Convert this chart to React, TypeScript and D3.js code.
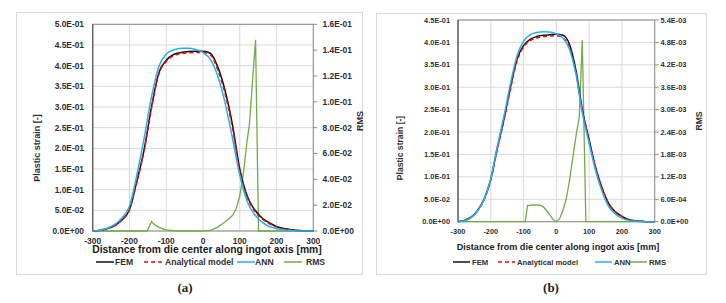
import * as d3 from 'd3';

// distance along ingot axis [mm], shared by the strain curves
const distance = [-300, -280, -260, -240, -220, -200, -180, -160, -140, -120, -100, -80, -60, -40, -20, 0,
  20, 40, 60, 80, 100, 120, 140, 160, 180, 200, 220, 240, 260, 280, 300];

// panel (a)
const femA = [0, 0.002, 0.006, 0.013, 0.027, 0.052, 0.12, 0.197, 0.3, 0.383, 0.413, 0.427, 0.432, 0.434, 0.435, 0.435,
  0.43, 0.397, 0.34, 0.258, 0.15, 0.085, 0.052, 0.032, 0.02, 0.011, 0.006, 0.003, 0.001, 0.0005, 0];
const analyticalA = [0, 0.002, 0.006, 0.013, 0.027, 0.051, 0.118, 0.195, 0.298, 0.38, 0.41, 0.424, 0.429, 0.431, 0.432, 0.432,
  0.426, 0.39, 0.332, 0.25, 0.145, 0.082, 0.049, 0.03, 0.018, 0.01, 0.005, 0.002, 0.001, 0, 0];
const annA = [0, 0.002, 0.007, 0.016, 0.032, 0.06, 0.135, 0.225, 0.325, 0.398, 0.428, 0.438, 0.442, 0.442, 0.439, 0.432,
  0.415, 0.375, 0.31, 0.225, 0.135, 0.072, 0.04, 0.022, 0.011, 0.006, 0.002, 0.001, 0, 0, 0];
const rmsDistA = [-300, -152, -140, -130, -120, -110, -100, -80, -60, 0, 20, 40, 60, 80, 90, 100, 110, 120, 126, 143, 151, 300];
const rmsA = [0, 0, 0.0072, 0.0045, 0.003, 0.0017, 0.0008, 0.0002, 0, 0, 0.0005, 0.003, 0.007, 0.012, 0.017, 0.027,
  0.045, 0.07, 0.082, 0.148, 0, 0];

// panel (b)
const femB = [0, 0.003, 0.01, 0.025, 0.051, 0.095, 0.165, 0.228, 0.3, 0.363, 0.393, 0.407, 0.413, 0.416, 0.417, 0.418,
  0.416, 0.396, 0.337, 0.247, 0.183, 0.12, 0.074, 0.04, 0.022, 0.012, 0.005, 0.002, 0.001, 0, 0];
const analyticalB = [0, 0.003, 0.01, 0.025, 0.05, 0.093, 0.162, 0.225, 0.296, 0.358, 0.39, 0.404, 0.41, 0.413, 0.414, 0.415,
  0.41, 0.39, 0.33, 0.243, 0.18, 0.12, 0.073, 0.04, 0.022, 0.012, 0.005, 0.002, 0.001, 0, 0];
const annB = [0, 0.002, 0.009, 0.024, 0.05, 0.096, 0.168, 0.235, 0.308, 0.37, 0.403, 0.417, 0.422, 0.424, 0.423, 0.419,
  0.41, 0.385, 0.328, 0.24, 0.175, 0.113, 0.066, 0.033, 0.017, 0.008, 0.003, 0.001, 0, 0, 0];
const rmsDistB = [-300, -95, -88, -70, -50, -40, -30, -20, -10, 0, 10, 20, 30, 40, 50, 60, 70, 79, 90, 300];
const rmsB = [0, 0, 0.00043, 0.00045, 0.00044, 0.0004, 0.0003, 0.00018, 0.00006, 0, 0.00008, 0.0003, 0.0006, 0.0011,
  0.0017, 0.0023, 0.0028, 0.00486, 0, 0];

// ticks
const xTicks = [-300, -200, -100, 0, 100, 200, 300];
const strainTicksA = [0, 0.05, 0.1, 0.15, 0.2, 0.25, 0.3, 0.35, 0.4, 0.45, 0.5];
const rmsTicksA = [0, 0.02, 0.04, 0.06, 0.08, 0.1, 0.12, 0.14, 0.16];
const strainTicksB = [0, 0.05, 0.1, 0.15, 0.2, 0.25, 0.3, 0.35, 0.4, 0.45];
const rmsTicksB = [0, 0.0006, 0.0012, 0.0018, 0.0024, 0.003, 0.0036, 0.0042, 0.0048, 0.0054];

const seriesNames = ['FEM', 'Analytical model', 'ANN', 'RMS'];
const COLORS = { fem: '#111111', analytical: '#ff0000', ann: '#1fb4ef', rms: '#70ad47' };
const FONT = '"Liberation Sans", Arial, sans-serif';
const TEXT = '#303030';

const sci = (v: number) => {
  const [m, e] = v.toExponential(1).split('e');
  const n = +e;
  return m + 'E' + (n < 0 ? '-' : '+') + String(Math.abs(n)).padStart(2, '0');
};

interface PanelProps {
  frame: [number, number, number, number];
  plot: { left: number; top: number; right: number; bottom: number };
  fem: number[]; analytical: number[]; ann: number[];
  rmsX: number[]; rms: number[];
  strainTicks: number[]; rmsTicks: number[];
  tickSize: number; titleSize: number; legendSize: number;
  leftLabelX: number; rightLabelX: number; xLabelY: number;
  yTitleX: number; rmsTitleX: number;
  xTitleX: number; xTitleY: number; xTitleSize: number;
  legendX: number[]; legendTextX: number[]; legendW: number;
  tag: string; tagX: number;
}

function Panel(p: PanelProps) {
  const { left, top, right, bottom } = p.plot;
  const x = d3.scaleLinear().domain([-300, 300]).range([left, right]);
  const y = d3.scaleLinear().domain([0, p.strainTicks[p.strainTicks.length - 1]]).range([bottom, top]);
  const y2 = d3.scaleLinear().domain([0, p.rmsTicks[p.rmsTicks.length - 1]]).range([bottom, top]);

  const strainLine = d3.line<number>()
    .x((_, i) => x(distance[i]))
    .y(d => y(d))
    .curve(d3.curveMonotoneX);
  const rmsLine = d3.line<number>()
    .x((_, i) => x(p.rmsX[i]))
    .y(d => y2(d));

  const legendColors = [COLORS.fem, COLORS.analytical, COLORS.ann, COLORS.rms];
  const legendY = 262;

  return (
    <g fontFamily={FONT}>
      <rect x={p.frame[0]} y={p.frame[1]} width={p.frame[2]} height={p.frame[3]} fill="white" stroke="#d9d9d9" />
      {/* gridlines */}
      {p.strainTicks.map(t => (
        <line key={'h' + t} x1={left} x2={right} y1={y(t)} y2={y(t)} stroke="#d9d9d9" strokeWidth={1} />
      ))}
      {xTicks.map(t => (
        <line key={'v' + t} x1={x(t)} x2={x(t)} y1={top} y2={bottom} stroke="#d9d9d9" strokeWidth={1} />
      ))}
      <rect x={left} y={top} width={right - left} height={bottom - top} fill="none" stroke="#8c8c8c" strokeWidth={1} />
      <line x1={left} x2={left} y1={top} y2={bottom} stroke="#595959" strokeWidth={1.2} />
      {p.rmsTicks.map(t => (
        <line key={'rt' + t} x1={right} x2={right + 4} y1={y2(t)} y2={y2(t)} stroke="#8c8c8c" />
      ))}

      {/* series */}
      <path d={rmsLine(p.rms) || ''} fill="none" stroke={COLORS.rms} strokeWidth={1.3} />
      <path d={strainLine(p.fem) || ''} fill="none" stroke={COLORS.fem} strokeWidth={1.5} />
      <path d={strainLine(p.analytical) || ''} fill="none" stroke={COLORS.analytical} strokeWidth={1.5} strokeDasharray="4 3" />
      <path d={strainLine(p.ann) || ''} fill="none" stroke={COLORS.ann} strokeWidth={1.5} />

      {/* tick labels */}
      <g fontSize={p.tickSize} fontWeight="bold" fill={TEXT}>
        {p.strainTicks.map(t => (
          <text key={'yl' + t} x={p.leftLabelX} y={y(t)} dy="0.35em" textAnchor="end">{sci(t)}</text>
        ))}
        {p.rmsTicks.map(t => (
          <text key={'yr' + t} x={p.rightLabelX} y={y2(t)} dy="0.35em" textAnchor="start">{sci(t)}</text>
        ))}
        {xTicks.map(t => (
          <text key={'xl' + t} x={x(t)} y={p.xLabelY} dy="0.35em" textAnchor="middle">{t}</text>
        ))}
      </g>

      {/* axis titles */}
      <text transform={`translate(${p.yTitleX},148) rotate(-90)`} textAnchor="middle" dy="0.35em"
        fontSize={p.titleSize} fontWeight="bold" fill={TEXT}>Plastic strain [-]</text>
      <text transform={`translate(${p.rmsTitleX},121) rotate(-90)`} textAnchor="middle" dy="0.35em"
        fontSize={p.titleSize} fontWeight="bold" fill={TEXT}>RMS</text>
      <text x={p.xTitleX} y={p.xTitleY} dy="0.35em" textAnchor="middle" fontSize={p.xTitleSize}
        fontWeight="bold" fill="#1a1a1a">Distance from die center along ingot axis [mm]</text>

      {/* legend */}
      {seriesNames.map((name, i) => (
        <g key={name}>
          <line x1={p.legendX[i]} x2={p.legendX[i] + p.legendW} y1={legendY} y2={legendY}
            stroke={legendColors[i]} strokeWidth={1.5} strokeDasharray={i === 1 ? '4 3' : undefined} />
          <text x={p.legendTextX[i]} y={legendY} dy="0.35em" fontSize={p.legendSize} fontWeight="bold" fill={TEXT}>{name}</text>
        </g>
      ))}

      <text x={p.tagX} y={287} dy="0.35em" textAnchor="middle" fontFamily='"Liberation Serif", serif'
        fontSize={13} fontWeight="bold" fill="#222">{p.tag}</text>
    </g>
  );
}

export default function App() {
  return (
    <svg width={726} height={303} style={{ position: 'absolute', left: 0, top: 0, background: 'white' }}>
      <Panel
        frame={[16.5, 12.5, 346, 262]}
        plot={{ left: 92.7, top: 24.3, right: 313.3, bottom: 231 }}
        fem={femA} analytical={analyticalA} ann={annA}
        rmsX={rmsDistA} rms={rmsA}
        strainTicks={strainTicksA} rmsTicks={rmsTicksA}
        tickSize={8.4} titleSize={9} legendSize={8.6}
        leftLabelX={84} rightLabelX={322.5} xLabelY={240.7}
        yTitleX={37} rmsTitleX={360}
        xTitleX={207} xTitleY={249.5} xTitleSize={10.3}
        legendX={[96, 144, 237, 284]} legendTextX={[115, 165, 255, 306]} legendW={18}
        tag="(a)" tagX={185}
      />
      <Panel
        frame={[376.5, 13.5, 330, 261]}
        plot={{ left: 458, top: 20, right: 654.7, bottom: 221.7 }}
        fem={femB} analytical={analyticalB} ann={annB}
        rmsX={rmsDistB} rms={rmsB}
        strainTicks={strainTicksB} rmsTicks={rmsTicksB}
        tickSize={7.4} titleSize={8.6} legendSize={7.7}
        leftLabelX={450} rightLabelX={660.5} xLabelY={231.7}
        yTitleX={400} rmsTitleX={698.5}
        xTitleX={558} xTitleY={247} xTitleSize={9.1}
        legendX={[453, 498, 595, 630]} legendTextX={[472, 517, 614, 649]} legendW={17}
        tag="(b)" tagX={551}
      />
    </svg>
  );
}
